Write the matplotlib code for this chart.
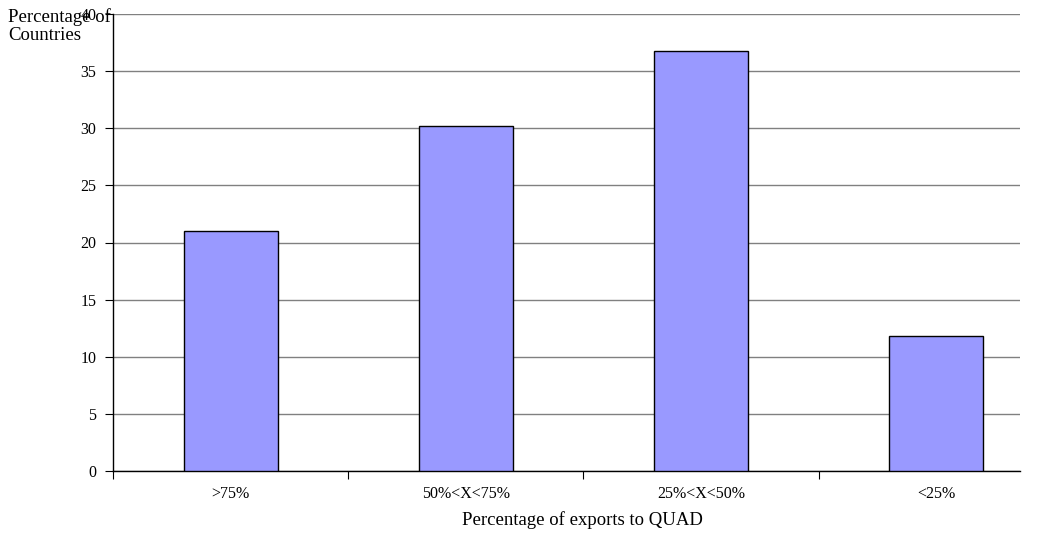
import matplotlib.pyplot as plt
import numpy as np

plt.rcParams['font.family'] = ['Liberation Serif', 'DejaVu Serif']

categories = ['>75%', '50%<X<75%', '25%<X<50%', '<25%']
values = [21.0, 30.2, 36.8, 11.8]

fig = plt.figure(figsize=(10.44, 5.44), dpi=100)
ax = fig.add_axes([113/1044, 1 - 471/544, 907/1044, 457/544])

x = np.arange(len(categories))
ax.bar(x, values, width=0.4, color='#9999ff', edgecolor='black', linewidth=1.0, zorder=3)

ax.set_yticks(range(0, 41, 5))
ax.tick_params(axis='y', labelsize=11.5, direction='out', length=6, width=0.8, pad=6)
ax.yaxis.grid(True, color='#808080', linewidth=1.0, zorder=0)

ax.set_xticks(x)
ax.set_xticklabels(categories, fontsize=11.5)
ax.tick_params(axis='x', length=0, pad=11)
ax.set_xticks(np.arange(-0.5, len(categories)), minor=True)
ax.tick_params(axis='x', which='minor', length=6, width=0.8, direction='out')

# the plot area runs past the right edge of the picture, so the last slot is cut
ax.set_xlim(-0.5, 3.356)
ax.set_ylim(0, 40)

for s in ['top', 'right']:
    ax.spines[s].set_visible(False)
ax.spines['left'].set_linewidth(1.0)
ax.spines['bottom'].set_linewidth(1.0)

ax.set_xlabel('Percentage of exports to QUAD', fontsize=13.5)
ax.xaxis.set_label_coords(0.518, -0.088)
fig.text(8/1044, 1 - 8/544, 'Percentage of\nCountries', fontsize=13.5, ha='left', va='top', linespacing=1.12)

fig.savefig('out.png', dpi=100)
